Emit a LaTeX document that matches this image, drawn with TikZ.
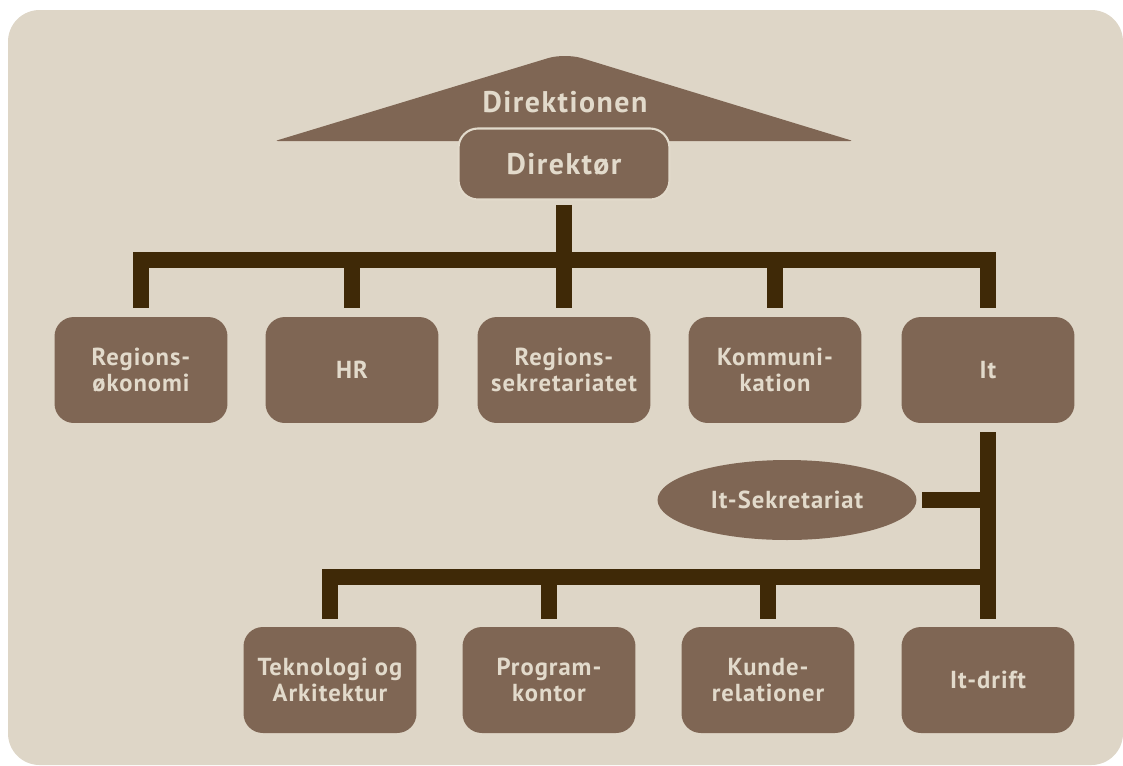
\documentclass[tikz,border=0pt]{standalone}
\usepackage{fontspec}
\setmainfont{PT Sans}
\usetikzlibrary{shapes.geometric}

\definecolor{paper}{HTML}{DED6C7}
\definecolor{unit}{HTML}{7F6654}
\definecolor{label}{HTML}{E2DACB}
\definecolor{linkbrown}{HTML}{3F2907}

\begin{document}
\begin{tikzpicture}[x=0.02cm,y=-0.02cm,text=label,
                    font=\bfseries\addfontfeatures{LetterSpace=4}\fontsize{14}{15}\selectfont]
  \tikzstyle{unitbox}=[fill=unit,rounded corners=11pt,inner sep=0pt,align=center,
                       minimum width=3.46cm,minimum height=2.12cm]
  \tikzstyle{link}=[draw=linkbrown,line width=9pt]
  \tikzstyle{big}=[font=\bfseries\addfontfeatures{LetterSpace=5}\fontsize{17}{19}\selectfont]

  % background
  \useasboundingbox (0,0) rectangle (1123,765);
  \fill[paper,rounded corners=18pt] (8,10) rectangle (1123,765);

  % roof over the director
  \fill[unit] (275,141) [rounded corners=10pt] -- (565,53)
              [rounded corners=1.5pt] -- (853,141) -- cycle;
  \node[big] (board) at (565,102) {Direktionen};
  \node[unitbox,big,draw=label,line width=1.2pt,minimum width=4.22cm,
        minimum height=1.42cm] (dir) at (564,164) {Direktør};

  % first row
  \node[unitbox] (r1) at (141,370) {Regions-\\økonomi};
  \node[unitbox] (r2) at (352,370) {HR};
  \node[unitbox] (r3) at (564,370) {Regions-\\sekretariatet};
  \node[unitbox] (r4) at (775,370) {Kommuni-\\kation};
  \node[unitbox] (r5) at (988,370) {It};

  \node[fill=unit,ellipse,minimum width=5.18cm,minimum height=1.6cm] (sek)
        at (787,500) {It-Sekretariat};

  % second row
  \node[unitbox] (b1) at (330,680) {Teknologi og\\Arkitektur};
  \node[unitbox] (b2) at (549,680) {Program-\\kontor};
  \node[unitbox] (b3) at (768,680) {Kunde-\\relationer};
  \node[unitbox] (b4) at (988,680) {It-drift};

  % connectors
  \coordinate (hub) at (564,260);
  \draw[link,shorten <=2.5pt,shorten >=5pt] (dir) -- (r3);
  \draw[link] ([xshift=-4.5pt]hub -| r1) -- ([xshift=4.5pt]hub -| r5);
  \foreach \n in {r1,r2,r4,r5}
    \draw[link,shorten >=5pt] (hub -| \n) -- (\n);

  \coordinate (hub2) at (988,577);
  \draw[link,shorten <=5pt,shorten >=4.5pt] (r5) -- (b4);
  \draw[link] ([xshift=-4.5pt]hub2 -| b1) -- ([xshift=4.5pt]hub2);
  \foreach \n in {b1,b2,b3}
    \draw[link,shorten >=4.5pt] (hub2 -| \n) -- (\n);
  \draw[link,shorten <=3pt] (sek) -- (sek -| r5);
\end{tikzpicture}
\end{document}
